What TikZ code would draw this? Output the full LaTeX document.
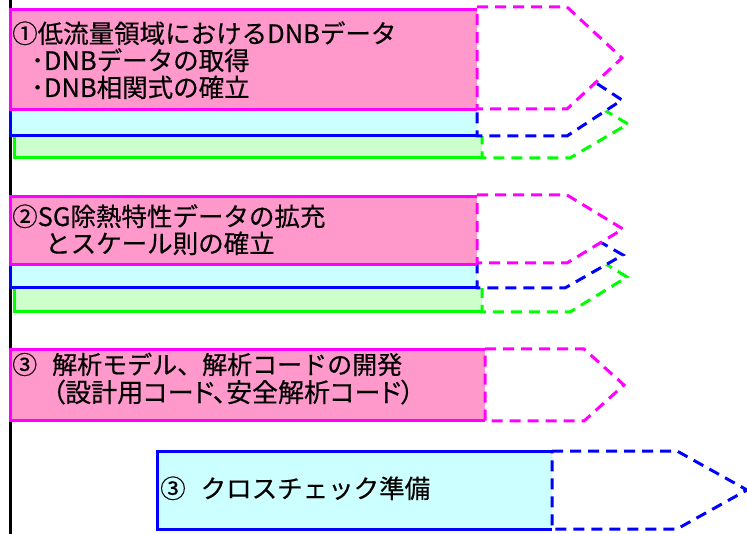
\documentclass[tikz,border=0pt]{standalone}
\usepackage{fontspec}
\setmainfont{Noto Sans CJK JP}
\newfontfamily\lblfont{Noto Sans CJK JP}[FakeBold=0.4]
\newfontfamily\lblfontp{Noto Sans CJK JP}[FakeBold=0.4,RawFeature=+palt]
\definecolor{pinkfill}{HTML}{FF99CC}
\definecolor{magline}{HTML}{FF00FF}
\definecolor{cyanfill}{HTML}{CCFFFF}
\definecolor{blueline}{HTML}{0000FF}
\definecolor{greenfill}{HTML}{CCFFCC}
\definecolor{greenline}{HTML}{00FF00}
\tikzset{
  solidbar/.style={line width=3pt, line join=miter},
  dashbar/.style={line width=3pt, dash pattern=on 11pt off 7pt, fill=white, line join=miter},
  lbl/.style={anchor=base west, inner sep=0pt, font=\lblfont\fontsize{25.5}{27.5}\selectfont},
  lbls/.style={anchor=base west, inner sep=0pt, font=\lblfont\fontsize{25}{27.5}\selectfont},
  lblp/.style={anchor=base west, inner sep=0pt, font=\lblfontp\fontsize{26}{27.5}\selectfont},
  timeline/.style={line width=3pt, draw=black}
}
\begin{document}
\begin{tikzpicture}[x=1pt,y=-1pt]
\useasboundingbox (0,0) rectangle (747,534);
% time axis
\coordinate (axtop) at (10,0);
\coordinate (axbot) at (10,534);
\draw[timeline] (axtop) -- (axbot);

% ---------- group 1 ----------
\draw[solidbar, draw=greenline, fill=greenfill] (482,90) -- (14,90) -- (14,158) -- (482,158);
\draw[dashbar, draw=greenline] (482,90) -- (570,90) -- (628,124) -- (570,158) -- (482,158) -- cycle;
\draw[solidbar, draw=blueline, fill=cyanfill] (477,64) -- (10,64) -- (10,136) -- (477,136);
\draw[dashbar, draw=blueline] (477,64) -- (567,64) -- (622,100) -- (567,136) -- (477,136) -- cycle;
\draw[solidbar, draw=magline, fill=pinkfill] (477,10) -- (10,10) -- (10,110) -- (477,110);
\draw[dashbar, draw=magline] (477,7) -- (567,7) -- (622,58) -- (567,109) -- (477,109) -- cycle;
\node[lbl] (t1a) at (12,43) {①低流量領域におけるDNBデータ};
\node[lbl] (t1b) at (31,70) {･DNBデータの取得};
\node[lbl] (t1c) at (31,97) {･DNB相関式の確立};

% ---------- group 2 ----------
\draw[solidbar, draw=greenline, fill=greenfill] (482,242) -- (14,242) -- (14,312) -- (482,312);
\draw[dashbar, draw=greenline] (482,242) -- (570,242) -- (627,277) -- (570,312) -- (482,312) -- cycle;
\draw[solidbar, draw=blueline, fill=cyanfill] (477,222) -- (10,222) -- (10,288) -- (477,288);
\draw[dashbar, draw=blueline] (477,222) -- (565,222) -- (623,255) -- (565,288) -- (477,288) -- cycle;
\draw[solidbar, draw=magline, fill=pinkfill] (477,197) -- (10,197) -- (10,265) -- (477,265);
\draw[dashbar, draw=magline] (477,195) -- (567,195) -- (623,229) -- (567,263) -- (477,263) -- cycle;
\node[lbl] (t2a) at (12,226) {②SG除熱特性データの拡充};
\node[lbl] (t2b) at (45,253) {とスケール則の確立};

% ---------- group 3 ----------
\draw[solidbar, draw=magline, fill=pinkfill] (485,350) -- (10,350) -- (10,421) -- (485,421);
\draw[dashbar, draw=magline] (485,349) -- (584,349) -- (624,385) -- (584,421) -- (485,421) -- cycle;
\node[lbls] (t3a) at (12,374) {③\hspace{15pt}解析モデル、解析コードの開発};
\node[lblp] (t3b) at (52,402) {（設計用コード、安全解析コード）};

% ---------- group 4 ----------
\draw[solidbar, draw=blueline, fill=cyanfill] (552,451) -- (157,451) -- (157,529) -- (552,529);
\draw[dashbar, draw=blueline] (552,451) -- (677,451) -- (747,490) -- (677,529) -- (552,529) -- cycle;
\node[lbl] (t4) at (160,498) {③\hspace{15pt}クロスチェック準備};
\end{tikzpicture}
\end{document}
